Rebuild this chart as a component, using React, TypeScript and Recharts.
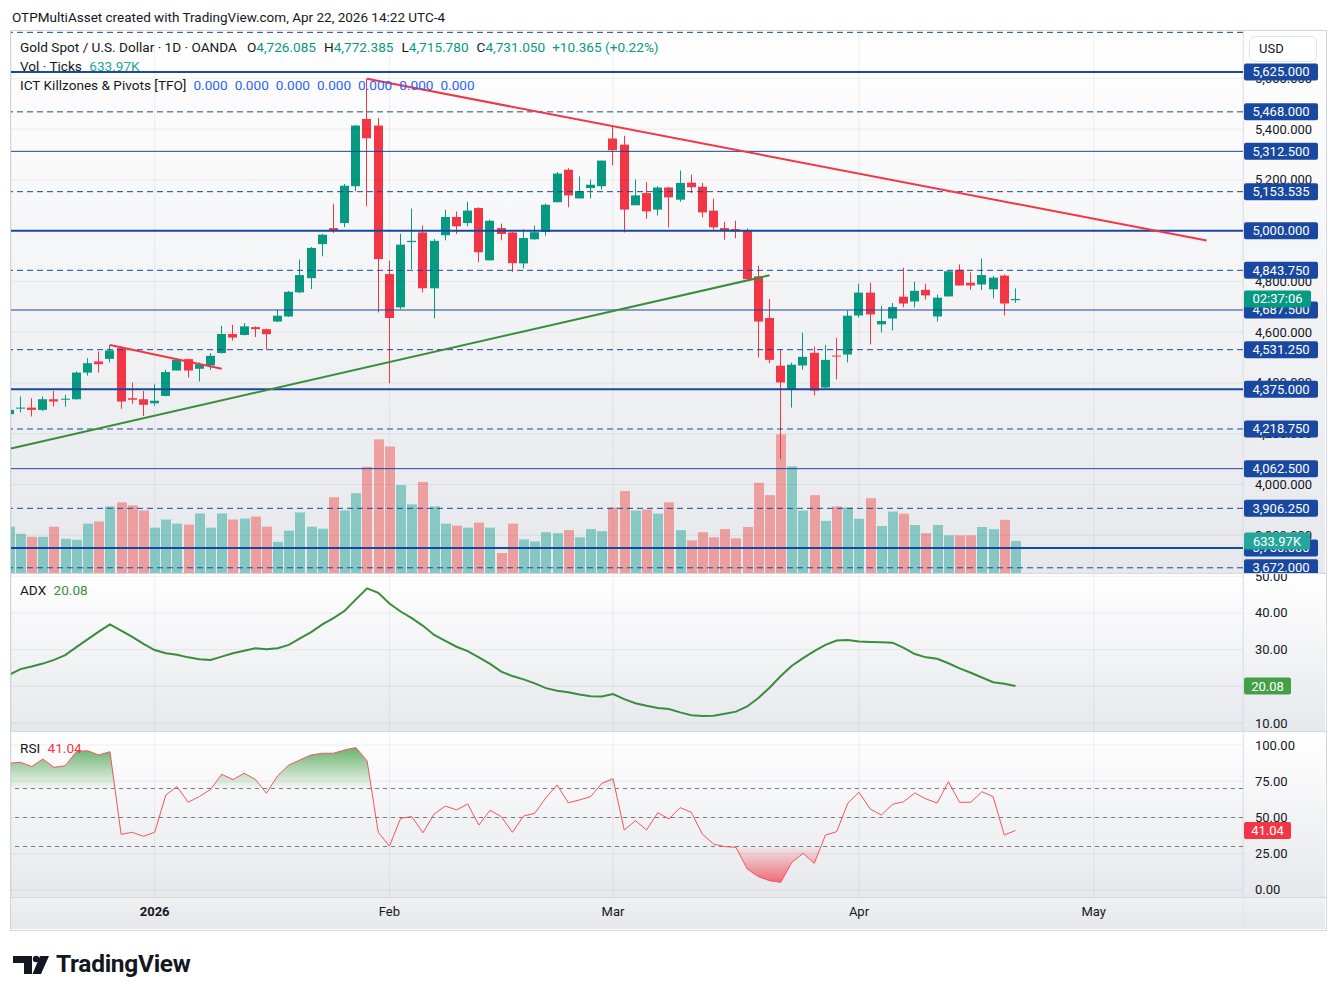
import React from "react";
import {
  ComposedChart,
  Bar,
  Line,
  Area,
  XAxis,
  YAxis,
  CartesianGrid,
  ReferenceLine
} from "recharts";

const UP = "#089981";
const DOWN = "#f23645";
const BLUE = "#1848a0";
const GRID = "rgba(42, 46, 57, 0.07)";
const TEXT = "#131722";
const FONT = "Roboto, 'Noto Sans', Arial, sans-serif";

// daily candles, Dec 12 2025 .. Apr 22 2026
const opens = [4277, 4299, 4303, 4294, 4336, 4334, 4336, 4441, 4485, 4495, 4537, 4340, 4336, 4320, 4349, 4449, 4494, 4456, 4469, 4518, 4593, 4589, 4620, 4612, 4642, 4662, 4757, 4813, 4947, 5010, 5030, 5175, 5440, 5414, 4829, 4698, 4955, 4993, 4773, 4982, 5054, 5030, 5089, 4883, 5010, 4993, 4871, 4966, 4995, 5112, 5240, 5127, 5168, 5175, 5363, 5339, 5100, 5148, 5083, 5170, 5122, 5189, 5173, 5079, 5010, 5006, 4999, 4820, 4656, 4468, 4376, 4469, 4519, 4382, 4508, 4512, 4666, 4756, 4631, 4654, 4740, 4721, 4767, 4662, 4741, 4846, 4795, 4788, 4769, 4823, 4726.085];
const highs = [4305, 4347, 4340, 4347, 4369, 4353, 4445, 4498, 4524, 4550, 4544, 4402, 4369, 4395, 4452, 4498, 4496, 4481, 4518, 4625, 4629, 4636, 4623, 4614, 4688, 4763, 4886, 4936, 4988, 5106, 5184, 5416, 5598, 5444, 4882, 4988, 5087, 5020, 4967, 5083, 5075, 5114, 5092, 5043, 5028, 4996, 5006, 5020, 5106, 5231, 5246, 5214, 5201, 5276, 5411, 5374, 5201, 5192, 5175, 5173, 5237, 5221, 5188, 5126, 5035, 5039, 5009, 4862, 4731, 4531, 4480, 4598, 4543, 4550, 4578, 4685, 4791, 4795, 4704, 4715, 4854, 4799, 4791, 4748, 4842, 4867, 4836, 4890, 4821, 4828, 4772.385];
const lows = [4270, 4284, 4268, 4290, 4307, 4307, 4334, 4429, 4441, 4481, 4298, 4318, 4270, 4310, 4347, 4449, 4422, 4406, 4452, 4516, 4567, 4587, 4581, 4531, 4640, 4660, 4754, 4770, 4899, 4991, 5014, 5155, 5096, 4678, 4399, 4691, 4849, 4757, 4654, 4962, 4987, 5017, 4875, 4883, 4962, 4838, 4851, 4964, 4980, 5112, 5092, 5127, 5127, 5162, 5258, 4993, 5100, 5047, 5060, 5013, 5114, 5148, 5052, 5004, 4964, 4970, 4807, 4500, 4478, 4100, 4303, 4453, 4351, 4377, 4414, 4481, 4658, 4552, 4599, 4607, 4698, 4698, 4729, 4642, 4741, 4784, 4767, 4766, 4733, 4666, 4715.78];
const closes = [4294, 4303, 4294, 4336, 4327, 4338, 4441, 4478, 4474, 4528, 4327, 4334, 4314, 4330, 4443, 4491, 4449, 4474, 4507, 4593, 4579, 4623, 4612, 4592, 4665, 4759, 4825, 4932, 4984, 5000, 5177, 5414, 5364, 4888, 4656, 4945, 4960, 4773, 4960, 5054, 5017, 5079, 4915, 5039, 4987, 4872, 4971, 4994, 5102, 5225, 5139, 5156, 5181, 5276, 5317, 5083, 5139, 5076, 5170, 5131, 5188, 5171, 5072, 5013, 5001, 4997, 4809, 4642, 4491, 4402, 4472, 4503, 4370, 4491, 4504, 4665, 4756, 4670, 4644, 4699, 4713, 4763, 4745, 4736, 4840, 4784, 4784, 4825, 4815, 4713, 4731.05];
// volume in thousands of ticks
const volumes = [918, 777, 717, 717, 918, 677, 657, 978, 1019, 1320, 1400, 1340, 1240, 898, 1059, 978, 958, 1180, 898, 1180, 1059, 1079, 1119, 918, 617, 838, 1200, 918, 878, 1501, 1240, 1582, 2104, 2647, 2506, 1742, 1360, 1803, 1320, 978, 938, 898, 998, 898, 396, 978, 666, 625, 809, 789, 850, 707, 870, 829, 1298, 1624, 1237, 1257, 1176, 1400, 850, 646, 809, 707, 870, 686, 911, 1788, 1543, 2746, 2113, 1237, 1543, 1033, 1318, 1298, 1074, 1482, 931, 1217, 1176, 951, 789, 951, 747, 747, 747, 911, 870, 1054, 633.97];
const adxValues = [23.2, 24.7, 25.4, 26.2, 27.2, 28.5, 30.7, 32.8, 34.9, 36.9, 35.2, 33.5, 31.6, 29.9, 29.0, 28.6, 27.9, 27.4, 27.2, 28.1, 29.0, 29.7, 30.4, 30.1, 30.4, 31.3, 33.1, 34.8, 36.9, 38.6, 40.6, 43.7, 46.7, 45.5, 42.6, 40.4, 38.6, 36.5, 34.0, 32.4, 30.8, 29.6, 27.9, 26.1, 24.0, 22.8, 21.9, 20.8, 19.5, 18.8, 18.4, 17.8, 17.3, 17.2, 17.9, 16.5, 15.4, 14.7, 14.1, 13.8, 12.9, 12.1, 11.9, 12.0, 12.5, 13.1, 14.5, 16.8, 19.6, 22.8, 25.6, 27.7, 29.6, 31.3, 32.5, 32.6, 32.2, 32.1, 32.0, 31.9, 30.5, 28.8, 27.9, 27.5, 26.3, 24.9, 23.7, 22.4, 21.1, 20.7, 20.08];
const rsiValues = [87.4, 88.1, 85.1, 90.3, 84.6, 85.7, 95.4, 96.1, 93.1, 95.4, 38.4, 39.8, 37.0, 39.8, 65.5, 71.3, 60.5, 64.4, 69.4, 79.8, 76.1, 80.5, 76.3, 66.7, 78.8, 86.2, 89.7, 93.1, 94.3, 94.3, 96.6, 98.2, 89.0, 39.8, 30.3, 49.4, 50.6, 39.5, 52.4, 57.9, 55.2, 59.3, 44.8, 55.0, 50.6, 39.8, 51.0, 52.9, 63.7, 72.4, 60.2, 62.1, 64.4, 73.6, 76.8, 41.4, 47.8, 41.4, 53.3, 49.0, 56.8, 53.6, 38.4, 31.7, 29.9, 29.4, 14.5, 9.2, 6.4, 5.3, 19.1, 25.3, 18.4, 37.9, 40.2, 59.8, 67.4, 55.9, 51.7, 59.1, 60.9, 66.9, 62.8, 60.0, 74.7, 60.5, 60.5, 67.8, 64.4, 37.9, 41.04];

// time axis
const monthTicks = [13, 34, 54, 76, 97];
const monthLabels = ["2026", "Feb", "Mar", "Apr", "May"];

// price scale
const priceTicks = [3800, 4000, 4200, 4400, 4600, 4800, 5000, 5200, 5400, 5600];
const pivotLevels = [5781.25, 5625, 5468, 5312.5, 5153.535, 5000, 4843.75, 4687.5, 4531.25, 4375, 4218.75, 4062.5, 3906.25, 3750, 3672];
const pivotStyles = ["dash", "thick", "dash", "thin", "dash", "thick", "dash", "thin", "dash", "thick", "dash", "thin", "dash", "thick", "dash"];
const pivotLabels = ["", "5,625.000", "5,468.000", "5,312.500", "5,153.535", "5,000.000", "4,843.750", "4,687.500", "4,531.250", "4,375.000", "4,218.750", "4,062.500", "3,906.250", "3,750.000", "3,672.000"];

// drawn trend lines in bar index / price
const trendLines = [
  { from: [32, 5598], to: [107.1, 4961], color: DOWN },
  { from: [9, 4550], to: [19, 4456], color: DOWN },
  { from: [0.15, 4142], to: [68, 4824], color: "#388e3c" }
];

const adxTicks = [10, 20, 30, 40, 50];
const rsiTicks = [0, 25, 50, 75, 100];
const rsiBands = [70, 50, 30];

const X_DOMAIN: [number, number] = [0.15, 110.35];
const PRICE_DOMAIN: [number, number] = [3651.5, 5786.5];
const VOL_DOMAIN: [number, number] = [0, 10738];
const ADX_DOMAIN: [number, number] = [7.82, 50.9];
const RSI_DOMAIN: [number, number] = [-4.83, 109.66];
const MARGIN = { top: 0, right: 10, bottom: 0, left: 11 };

const rows = opens.map((o, i) => ({
  i,
  o,
  h: highs[i],
  l: lows[i],
  c: closes[i],
  v: volumes[i],
  adx: adxValues[i],
  rsi: rsiValues[i]
}));
const last = rows[rows.length - 1];

const fmt3 = (v: number) =>
  v.toLocaleString("en-US", { minimumFractionDigits: 3, maximumFractionDigits: 3 });

// labels on the price scale: plain ticks first, badges on top of them
type TickSpec = { label: string; badge?: string; w?: number };
const volAsPrice =
  PRICE_DOMAIN[0] + (last.v / VOL_DOMAIN[1]) * (PRICE_DOMAIN[1] - PRICE_DOMAIN[0]);
const mainSpecs = new Map<number, TickSpec>();
priceTicks
  .filter((t) => !pivotLevels.includes(t))
  .forEach((t) => mainSpecs.set(t, { label: fmt3(t) }));
pivotLevels.forEach((lvl, k) => {
  if (pivotLabels[k]) mainSpecs.set(lvl, { label: pivotLabels[k], badge: BLUE, w: 74 });
});
mainSpecs.set(last.c, { label: "02:37:06", badge: UP, w: 67 });
mainSpecs.set(volAsPrice, { label: "633.97K", badge: "#26a69a", w: 66 });
const mainTickValues = Array.from(mainSpecs.keys());

function Candle(props: any) {
  const { x, y, width, height, payload } = props;
  if (!payload || x == null) return null;
  const top = Math.min(y, y + height);
  const span = Math.abs(height);
  const k = span / (payload.h - payload.l || 1);
  const color = payload.c >= payload.o ? UP : DOWN;
  const bodyTop = top + (payload.h - Math.max(payload.o, payload.c)) * k;
  const bodyH = Math.max(1, Math.abs(payload.o - payload.c) * k);
  const bx = Math.round(x);
  const cx = bx + Math.floor(width / 2) + 0.5;
  return (
    <g>
      <line x1={cx} x2={cx} y1={top} y2={top + span} stroke={color} strokeWidth={1} />
      <rect x={bx} y={bodyTop} width={width} height={bodyH} fill={color} />
    </g>
  );
}

function VolumeBar(props: any) {
  const { x, y, width, height, payload } = props;
  if (!payload || x == null) return null;
  const up = payload.c >= payload.o;
  return (
    <rect
      x={Math.round(x)}
      y={Math.min(y, y + height)}
      width={width}
      height={Math.abs(height)}
      fill={up ? "#26a69a" : "#ef5350"}
      fillOpacity={0.5}
    />
  );
}

const renderTick = (y: number, spec: TickSpec) => {
  if (!spec.badge) {
    return (
      <text x={1255} y={y} dy={4.5} fill={TEXT} fontSize={13} fontFamily={FONT}>
        {spec.label}
      </text>
    );
  }
  const w = spec.w || 70;
  return (
    <g>
      <rect x={1244} y={y - 8.5} width={w} height={17} rx={2} fill={spec.badge} />
      <text x={1244 + w / 2} y={y} dy={4.5} textAnchor="middle" fill="#fff" fontSize={13} fontFamily={FONT}>
        {spec.label}
      </text>
    </g>
  );
};

const mainTick = (p: any) => {
  const spec = mainSpecs.get(p.payload.value);
  return spec ? renderTick(p.y, spec) : <g />;
};
const makePaneTick = (lastValue: number, color: string) => (p: any) => {
  const v = p.payload.value;
  if (v === lastValue) return renderTick(p.y, { label: v.toFixed(2), badge: color, w: 47 });
  return renderTick(p.y, { label: v.toFixed(2) });
};
const adxTick = makePaneTick(last.adx, "#43a047");
const rsiTick = makePaneTick(last.rsi, DOWN);

const timeTick = (p: any) => {
  const idx = monthTicks.indexOf(p.payload.value);
  const label = monthLabels[idx];
  return (
    <text
      x={p.x}
      y={185}
      textAnchor="middle"
      fill={TEXT}
      fontSize={13}
      fontWeight={label === "2026" ? 700 : 400}
      fontFamily={FONT}
    >
      {label}
    </text>
  );
};

const paneBg = "linear-gradient(to bottom, #ffffff 0%, #e7e8ec 100%)";

function Legend() {
  const row: React.CSSProperties = {
    position: "absolute",
    left: 20,
    fontSize: 13.6,
    lineHeight: "16px",
    color: TEXT,
    whiteSpace: "nowrap",
    fontFamily: FONT
  };
  const val = { color: UP };
  const blue = { color: "#2962ff", marginLeft: 7 };
  return (
    <>
      <div style={{ ...row, top: 39 }}>
        Gold Spot / U.S. Dollar · 1D · OANDA
        <span style={{ marginLeft: 10 }}>
          O<span style={val}>4,726.085</span>
        </span>
        <span style={{ marginLeft: 8 }}>
          H<span style={val}>4,772.385</span>
        </span>
        <span style={{ marginLeft: 8 }}>
          L<span style={val}>4,715.780</span>
        </span>
        <span style={{ marginLeft: 8 }}>
          C<span style={val}>4,731.050</span>
        </span>
        <span style={{ ...val, marginLeft: 7 }}>+10.365 (+0.22%)</span>
      </div>
      <div style={{ ...row, top: 58 }}>
        Vol · Ticks <span style={{ color: "#26a69a", marginLeft: 4 }}>633.97K</span>
      </div>
      <div style={{ ...row, top: 77 }}>
        ICT Killzones &amp; Pivots [TFO]
        {[0, 1, 2, 3, 4, 5, 6].map((k) => (
          <span key={k} style={blue}>
            0.000
          </span>
        ))}
      </div>
      <div style={{ ...row, top: 582 }}>
        ADX <span style={{ color: "#388e3c", marginLeft: 4 }}>20.08</span>
      </div>
      <div style={{ ...row, top: 740 }}>
        RSI <span style={{ color: DOWN, marginLeft: 4 }}>41.04</span>
      </div>
    </>
  );
}

function MainPane() {
  return (
    <ComposedChart width={1335} height={542} data={rows} margin={MARGIN}>
      <CartesianGrid stroke={GRID} horizontal={false} />
      <XAxis xAxisId={0} dataKey="i" type="number" domain={X_DOMAIN} allowDataOverflow ticks={monthTicks} hide />
      <XAxis xAxisId="v" dataKey="i" type="number" domain={X_DOMAIN} allowDataOverflow hide />
      <YAxis
        yAxisId={0}
        orientation="right"
        width={82}
        domain={PRICE_DOMAIN}
        allowDataOverflow
        ticks={mainTickValues}
        interval={0}
        axisLine={false}
        tickLine={false}
        tick={mainTick}
      />
      <YAxis yAxisId="v" domain={VOL_DOMAIN} allowDataOverflow hide />
      {priceTicks.map((t) => (
        <ReferenceLine key={"g" + t} yAxisId={0} y={t} stroke={GRID} />
      ))}
      <Bar xAxisId="v" yAxisId="v" dataKey="v" barSize={10} shape={VolumeBar} isAnimationActive={false} />
      {pivotLevels.map((lvl, k) => (
        <ReferenceLine
          key={lvl}
          yAxisId={0}
          y={lvl}
          stroke={BLUE}
          strokeWidth={pivotStyles[k] === "thick" ? 2 : 1}
          strokeDasharray={pivotStyles[k] === "dash" ? "6 4" : undefined}
          ifOverflow="hidden"
        />
      ))}
      {trendLines.map((t, k) => (
        <ReferenceLine
          key={k}
          yAxisId={0}
          segment={[
            { x: t.from[0], y: t.from[1] },
            { x: t.to[0], y: t.to[1] }
          ]}
          stroke={t.color}
          strokeWidth={2}
          ifOverflow="visible"
        />
      ))}
      <Bar
        yAxisId={0}
        dataKey={(d: any) => [d.l, d.h]}
        barSize={9}
        shape={Candle}
        isAnimationActive={false}
      />
    </ComposedChart>
  );
}

function AdxPane() {
  return (
    <ComposedChart width={1335} height={158} data={rows} margin={MARGIN}>
      <CartesianGrid stroke={GRID} horizontal={false} />
      <XAxis dataKey="i" type="number" domain={X_DOMAIN} allowDataOverflow ticks={monthTicks} hide />
      <YAxis
        orientation="right"
        width={82}
        domain={ADX_DOMAIN}
        allowDataOverflow
        ticks={[...adxTicks, last.adx]}
        interval={0}
        axisLine={false}
        tickLine={false}
        tick={adxTick}
      />
      {adxTicks.map((t) => (
        <ReferenceLine key={t} y={t} stroke={GRID} />
      ))}
      <Line dataKey="adx" stroke="#388e3c" strokeWidth={2} dot={false} isAnimationActive={false} />
    </ComposedChart>
  );
}

function RsiPane() {
  const plotH = 166;
  const yOf = (v: number) => ((RSI_DOMAIN[1] - v) / (RSI_DOMAIN[1] - RSI_DOMAIN[0])) * plotH;
  return (
    <ComposedChart width={1335} height={197} data={rows} margin={MARGIN}>
      <defs>
        <linearGradient id="rsiFill" x1="0" x2="0" y1={yOf(100)} y2={yOf(0)} gradientUnits="userSpaceOnUse">
          <stop offset="0" stopColor="#43a047" stopOpacity={0.85} />
          <stop offset="0.3" stopColor="#43a047" stopOpacity={0.02} />
          <stop offset="0.3" stopColor="#ffffff" stopOpacity={0} />
          <stop offset="0.7" stopColor="#f23645" stopOpacity={0} />
          <stop offset="0.7" stopColor="#f23645" stopOpacity={0.03} />
          <stop offset="1" stopColor="#f23645" stopOpacity={0.85} />
        </linearGradient>
      </defs>
      <CartesianGrid stroke={GRID} horizontal={false} />
      <XAxis
        dataKey="i"
        type="number"
        domain={X_DOMAIN}
        allowDataOverflow
        ticks={monthTicks}
        interval={0}
        height={31}
        axisLine={false}
        tickLine={false}
        tick={timeTick}
      />
      <YAxis
        orientation="right"
        width={82}
        domain={RSI_DOMAIN}
        allowDataOverflow
        ticks={[...rsiTicks, last.rsi]}
        interval={0}
        axisLine={false}
        tickLine={false}
        tick={rsiTick}
      />
      {rsiTicks.map((t) => (
        <ReferenceLine key={"g" + t} y={t} stroke={GRID} />
      ))}
      {rsiBands.map((b) => (
        <ReferenceLine key={b} y={b} stroke="#787b86" strokeDasharray="4 4" strokeWidth={1} />
      ))}
      <Area dataKey="rsi" baseValue={70} stroke="none" fill="url(#rsiFill)" fillOpacity={1} isAnimationActive={false} />
      <Line dataKey="rsi" stroke="#f7525f" strokeWidth={1} dot={false} isAnimationActive={false} />
    </ComposedChart>
  );
}

function Logo() {
  return (
    <div style={{ position: "absolute", left: 13, top: 949, display: "flex", alignItems: "center" }}>
      <svg width={38} height={22} viewBox="0 0 38 22">
        <path d="M0 3 H19 V21 H11 V10 H0 Z" fill="#131722" />
        <circle cx={23} cy={6} r={3.2} fill="#131722" />
        <path d="M27 3 H36 L28 21 H19.5 Z" fill="#131722" />
      </svg>
      <span style={{ marginLeft: 5, fontSize: 24.5, fontWeight: 700, color: "#131722", fontFamily: FONT, letterSpacing: -0.3 }}>
        TradingView
      </span>
    </div>
  );
}

export default function App() {
  const abs = (l: number, t: number, w: number, h: number, extra: React.CSSProperties = {}): React.CSSProperties => ({
    position: "absolute",
    left: l,
    top: t,
    width: w,
    height: h,
    ...extra
  });
  return (
    <div style={{ position: "absolute", left: 0, top: 0, width: 1335, height: 997, background: "#fff", fontFamily: FONT, overflow: "hidden" }}>
      <div style={{ position: "absolute", left: 12, top: 9, fontSize: 13.5, color: TEXT, whiteSpace: "nowrap" }}>
        OTPMultiAsset created with TradingView.com, Apr 22, 2026 14:22 UTC-4
      </div>

      {/* pane backgrounds */}
      <div style={abs(11, 31, 1314, 542, { background: paneBg })} />
      <div style={abs(11, 574, 1314, 157, { background: paneBg })} />
      <div style={abs(11, 732, 1314, 165, { background: paneBg })} />
      <div style={abs(11, 898, 1314, 31, { background: "linear-gradient(to bottom, #eef0f2, #e6e7ea)" })} />

      <div style={{ position: "absolute", left: 0, top: 31 }}>
        <MainPane />
      </div>
      <div style={{ position: "absolute", left: 0, top: 573 }}>
        <AdxPane />
      </div>
      <div style={{ position: "absolute", left: 0, top: 731 }}>
        <RsiPane />
      </div>

      {/* separators and frame */}
      <div style={abs(10, 573, 1316, 1, { background: "#d6d8de" })} />
      <div style={abs(10, 731, 1316, 1, { background: "#d6d8de" })} />
      <div style={abs(10, 897, 1316, 1, { background: "#d6d8de" })} />
      <div style={abs(1243, 31, 1, 898, { background: "#e0e3eb" })} />
      <div style={abs(10, 30, 1315, 899, { border: "1px solid #d1d4dc", pointerEvents: "none" })} />

      <div
        style={abs(1249, 36, 68, 26, {
          background: "#fff",
          border: "1px solid #e0e3eb",
          borderRadius: 6,
          boxSizing: "border-box",
          fontSize: 13,
          color: TEXT,
          paddingLeft: 9,
          lineHeight: "24px"
        })}
      >
        USD
      </div>

      <Legend />
      <Logo />
    </div>
  );
}
